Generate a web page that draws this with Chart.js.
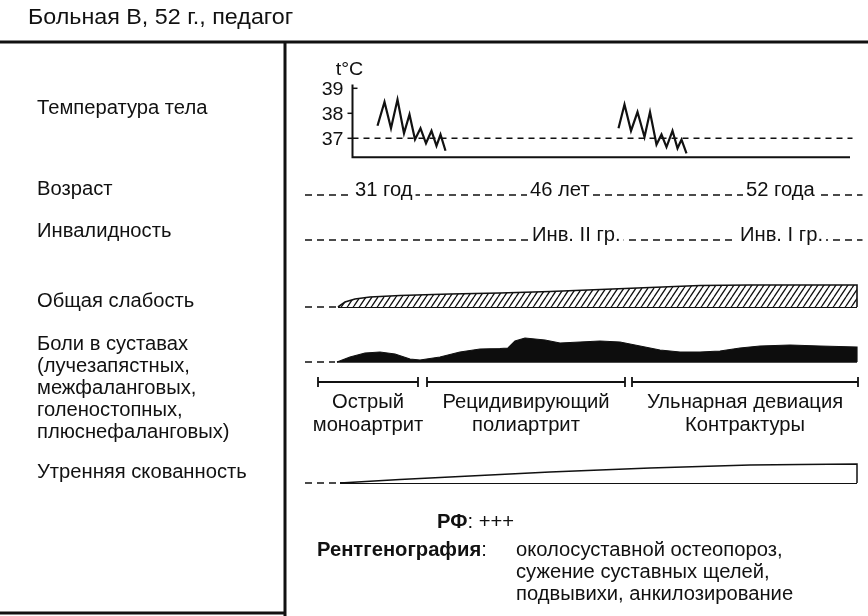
<!DOCTYPE html>
<html lang="ru">
<head>
<meta charset="utf-8">
<title>Больная В, 52 г., педагог</title>
<script src="https://cdn.jsdelivr.net/npm/chart.js@4.4.1/dist/chart.umd.min.js"></script>
<style>
  html, body { margin: 0; padding: 0; background: #fff; }
  #wrap { position: relative; width: 868px; height: 616px; overflow: hidden;
          font-family: "Liberation Sans", Arial, sans-serif; color: #111; }
  #chart { position: absolute; left: 0; top: 0; }
  .t { position: absolute; white-space: nowrap; font-size: 19.5px; line-height: 22px;
       transform: scaleX(1.035); transform-origin: 0 50%; }
  .title { font-size: 22.5px; }
  .b { font-weight: bold; }
</style>
</head>
<body>
<div id="wrap">
  <canvas id="chart" width="868" height="616"></canvas>
  <div class="t title" style="left:28px; top:6px;">Больная В, 52 г., педагог</div>
  <div class="t" style="left:37px; top:96px;">Температура тела</div>
  <div class="t" style="left:37px; top:177px;">Возраст</div>
  <div class="t" style="left:37px; top:219px;">Инвалидность</div>
  <div class="t" style="left:37px; top:289px;">Общая слабость</div>
  <div class="t" style="left:37px; top:332px;">Боли в суставах<br>(лучезапястных,<br>межфаланговых,<br>голеностопных,<br>плюснефаланговых)</div>
  <div class="t" style="left:37px; top:460px;">Утренняя скованность</div>
  <div class="t" style="left:437px; top:510px;"><span class="b">РФ</span>: +++</div>
  <div class="t" style="left:317px; top:538px;"><span class="b">Рентгенография</span>:</div>
  <div class="t" style="left:516px; top:538px;">околосуставной остеопороз,<br>сужение суставных щелей,<br>подвывихи, анкилозирование</div>
</div>
<script>
// Positions along the disease course are in timeline units (0 … 115).

// Body temperature, two febrile episodes
const tempAttack1X = [17.5, 18.9, 20.2, 21.5, 22.8, 23.9, 25.0, 26.1, 27.2, 28.3, 29.3, 30.1, 31.1];
const tempAttack1  = [37.5, 38.45, 37.4, 38.55, 37.2, 37.95, 36.95, 37.4, 36.8, 37.3, 36.7, 37.15, 36.5];
const tempAttack2X = [65.7, 66.9, 68.2, 69.5, 70.9, 72.0, 73.3, 74.3, 75.3, 76.5, 77.5, 78.3, 79.3];
const tempAttack2  = [37.4, 38.35, 37.3, 38.05, 37.05, 38.05, 36.75, 37.15, 36.65, 37.3, 36.6, 36.95, 36.4];
const tempTicks = [37, 38, 39];
const tempNorm = 37;

// Age and disability milestones
const ageLabels = ['31 год', '46 лет', '52 года'];
const ageX = [13, 48, 91.2];
const disabilityLabels = ['Инв. II гр.', 'Инв. I гр.'];
const disabilityX = [48.4, 90];

// General weakness (relative intensity)
const weaknessX = [9.6, 11, 13, 16, 22, 32, 42, 52, 62, 72, 82, 92, 102, 113.4];
const weakness  = [0, 2.0, 3.2, 4.0, 4.6, 5.2, 5.6, 6.2, 7.0, 7.8, 8.6, 8.8, 8.8, 8.8];

// Joint pain (relative intensity)
const painX = [9.4, 12, 15, 18, 21, 24, 26, 30, 34, 38, 42, 43.6, 45, 47, 51, 54, 58, 62, 66, 70, 74, 78, 82, 86, 90, 94, 100, 106, 113.4];
const pain  = [0, 2.0, 3.6, 4.0, 3.2, 1.2, 0.8, 2.0, 4.0, 5.2, 5.4, 5.6, 8.4, 9.6, 8.8, 7.6, 8.0, 8.4, 8.0, 6.4, 4.8, 4.0, 4.0, 4.4, 5.6, 6.4, 6.8, 6.4, 6.0];

// Morning stiffness (relative intensity)
const stiffnessX = [10, 22, 32, 42, 52, 62, 72, 82, 92, 102, 113.4];
const stiffness  = [0, 1.4, 2.4, 3.4, 4.4, 5.2, 6.0, 6.6, 7.2, 7.4, 7.6];

// Stages of the joint syndrome
const stageLabels = [['Острый', 'моноартрит'], ['Рецидивирующий', 'полиартрит'], ['Ульнарная девиация', 'Контрактуры']];
const stageStart = [5.6, 27.4, 68.4];
const stageEnd   = [25.6, 67, 113.6];

// ---- layout ----
const H = 616;
const FONT = '"Liberation Sans", Arial, sans-serif';
const STRETCH = 1.035;
const leadStart = 3;          // where the dashed lead-in lines begin
const rowY = { age: 195, disability: 240, stageBar: 382, stageText1: 408, stageText2: 431 };

function placeAxis(value, px, pxPerUnit) {
  return { min: value - (H - px) / pxPerUnit, max: value + px / pxPerUnit };
}
function pts(xs, ys) { return xs.map((x, i) => ({ x, y: ys[i] })); }
function closed(xs, ys) { const p = pts(xs, ys); p.push({ x: xs[xs.length - 1], y: 0 }); return p; }

function hatchPattern() {
  const w = 6, h = 9;
  const c = document.createElement('canvas');
  c.width = w; c.height = h;
  const g = c.getContext('2d');
  g.fillStyle = '#fff'; g.fillRect(0, 0, w, h);
  g.strokeStyle = '#111'; g.lineWidth = 1.3;
  g.beginPath();
  for (const dx of [-w, 0, w]) { g.moveTo(dx, h); g.lineTo(dx + w, 0); }
  g.stroke();
  return g.createPattern(c, 'repeat');
}

function drawText(ctx, text, x, y, align, weight, size) {
  ctx.save();
  ctx.font = (weight || 'normal') + ' ' + (size || 19.5) + 'px ' + FONT;
  ctx.textBaseline = 'alphabetic';
  ctx.fillStyle = '#111';
  const w = ctx.measureText(text).width * STRETCH;
  let x0 = x;
  if (align === 'center') x0 = x - w / 2;
  if (align === 'right') x0 = x - w;
  ctx.translate(x0, y);
  ctx.scale(STRETCH, 1);
  ctx.fillText(text, 0, 0);
  ctx.restore();
  return w;
}

function dashedLine(ctx, x1, x2, y, dash, lw) {
  ctx.save();
  ctx.strokeStyle = '#111';
  ctx.lineWidth = lw || 1.5;
  ctx.setLineDash(dash || [7, 5]);
  ctx.beginPath(); ctx.moveTo(x1, y); ctx.lineTo(x2, y); ctx.stroke();
  ctx.restore();
}

// Frame rules of the case sheet
const framePlugin = {
  id: 'frame',
  beforeDraw(chart) {
    const ctx = chart.ctx;
    ctx.save();
    ctx.fillStyle = '#fff'; ctx.fillRect(0, 0, chart.width, chart.height);
    ctx.strokeStyle = '#111'; ctx.lineWidth = 3;
    ctx.beginPath();
    ctx.moveTo(0, 42); ctx.lineTo(chart.width, 42);
    ctx.moveTo(285, 42); ctx.lineTo(285, H);
    ctx.moveTo(0, 613); ctx.lineTo(285, 613);
    ctx.stroke();
    ctx.restore();
  }
};

// Temperature axis, milestone rows, stage bars and labels
const annotatePlugin = {
  id: 'annotate',
  beforeDatasetsDraw(chart) {
    const ctx = chart.ctx, xs = chart.scales.x, yt = chart.scales.yTemp;
    const ax = xs.getPixelForValue(12.5);
    // norm line at 37 °C
    ctx.save();
    ctx.strokeStyle = '#111'; ctx.lineWidth = 1.5; ctx.setLineDash([6, 5]);
    ctx.beginPath();
    ctx.moveTo(ax, yt.getPixelForValue(tempNorm));
    ctx.lineTo(xs.getPixelForValue(112.5), yt.getPixelForValue(tempNorm));
    ctx.stroke();
    ctx.restore();
    // axes
    ctx.save();
    ctx.strokeStyle = '#111'; ctx.lineWidth = 2;
    const yBase = yt.getPixelForValue(36.24);
    ctx.beginPath();
    ctx.moveTo(ax, yt.getPixelForValue(39.15)); ctx.lineTo(ax, yBase);
    ctx.lineTo(xs.getPixelForValue(112), yBase);
    ctx.stroke();
    ctx.lineWidth = 1.5;
    tempTicks.forEach((t, i) => {
      const y = yt.getPixelForValue(t);
      ctx.beginPath();
      if (i === tempTicks.length - 1) { ctx.moveTo(ax, y); ctx.lineTo(ax + 5, y); }
      else { ctx.moveTo(ax - 5, y); ctx.lineTo(ax, y); }
      ctx.stroke();
      drawText(ctx, String(t), ax - 9, y + 7, 'right', 'normal', 19);
    });
    ctx.restore();
    drawText(ctx, 't°C', ax - 3, yt.getPixelForValue(39.8) + 7, 'center', 'normal', 19);
  },
  afterDatasetsDraw(chart) {
    const ctx = chart.ctx, xs = chart.scales.x;
    const x0 = xs.getPixelForValue(leadStart), x1 = xs.getPixelForValue(114.5);
    // milestone rows
    const rows = [[ageLabels, ageX, rowY.age], [disabilityLabels, disabilityX, rowY.disability]];
    rows.forEach(([labels, pos, y]) => {
      dashedLine(ctx, x0, x1, y, [7, 5], 1.5);
      labels.forEach((lab, i) => {
        const px = xs.getPixelForValue(pos[i]);
        ctx.save();
        ctx.font = '19.5px ' + FONT;
        const w = ctx.measureText(lab).width * STRETCH;
        ctx.fillStyle = '#fff';
        ctx.fillRect(px - 3, y - 16, w + 6, 18);
        ctx.restore();
        drawText(ctx, lab, px, y + 1, 'left');
      });
    });
    // dashed lead-ins to the symptom bands
    [['yWeak', weaknessX], ['yPain', painX], ['yStiff', stiffnessX]].forEach(([id, bx]) => {
      const y = chart.scales[id].getPixelForValue(0);
      dashedLine(ctx, x0, xs.getPixelForValue(bx[0]) - 2, y, [7, 5], 1.5);
    });
    // stage bars
    ctx.save();
    ctx.strokeStyle = '#111'; ctx.lineWidth = 1.8;
    stageStart.forEach((s, i) => {
      const a = xs.getPixelForValue(s), b = xs.getPixelForValue(stageEnd[i]), y = rowY.stageBar;
      ctx.beginPath();
      ctx.moveTo(a, y); ctx.lineTo(b, y);
      ctx.moveTo(a, y - 5); ctx.lineTo(a, y + 5);
      ctx.moveTo(b, y - 5); ctx.lineTo(b, y + 5);
      ctx.stroke();
      const mid = (a + b) / 2;
      drawText(ctx, stageLabels[i][0], mid, rowY.stageText1, 'center');
      drawText(ctx, stageLabels[i][1], mid, rowY.stageText2, 'center');
    });
    ctx.restore();
  }
};

const ctx = document.getElementById('chart').getContext('2d');
const black = '#111';

new Chart(ctx, {
  type: 'line',
  data: {
    datasets: [
      { data: pts(tempAttack1X, tempAttack1), yAxisID: 'yTemp', borderColor: black, borderWidth: 2.2, fill: false },
      { data: pts(tempAttack2X, tempAttack2), yAxisID: 'yTemp', borderColor: black, borderWidth: 2.2, fill: false },
      { data: closed(weaknessX, weakness), yAxisID: 'yWeak', borderColor: black, borderWidth: 1.6,
        backgroundColor: hatchPattern(), fill: { value: 0 } },
      { data: pts([weaknessX[0], weaknessX[weaknessX.length - 1]], [0, 0]), yAxisID: 'yWeak', borderColor: black, borderWidth: 2, fill: false },
      { data: closed(painX, pain), yAxisID: 'yPain', borderColor: black, borderWidth: 1.2,
        backgroundColor: '#0d0d0d', fill: { value: 0 } },
      { data: pts([painX[0], painX[painX.length - 1]], [0, 0]), yAxisID: 'yPain', borderColor: black, borderWidth: 1.5, fill: false },
      { data: closed(stiffnessX, stiffness), yAxisID: 'yStiff', borderColor: black, borderWidth: 1.5,
        backgroundColor: '#fff', fill: { value: 0 } },
      { data: pts([stiffnessX[0], stiffnessX[stiffnessX.length - 1]], [0, 0]), yAxisID: 'yStiff', borderColor: black, borderWidth: 1.8, fill: false }
    ]
  },
  options: {
    responsive: false,
    animation: false,
    devicePixelRatio: 1,
    layout: { padding: { left: 290, right: 3, top: 0, bottom: 0 } },
    plugins: { legend: { display: false }, tooltip: { enabled: false }, title: { display: false } },
    elements: { point: { radius: 0 }, line: { tension: 0, borderJoinStyle: 'miter' } },
    scales: {
      x: { type: 'linear', display: false, min: 0, max: 115 },
      yTemp:  { axis: 'y', type: 'linear', display: false, ...placeAxis(37, 138.3, 25) },
      yWeak:  { axis: 'y', type: 'linear', display: false, ...placeAxis(0, 307, 2.5) },
      yPain:  { axis: 'y', type: 'linear', display: false, ...placeAxis(0, 362, 2.5) },
      yStiff: { axis: 'y', type: 'linear', display: false, ...placeAxis(0, 483, 2.5) }
    }
  },
  plugins: [framePlugin, annotatePlugin]
});
</script>
</body>
</html>
